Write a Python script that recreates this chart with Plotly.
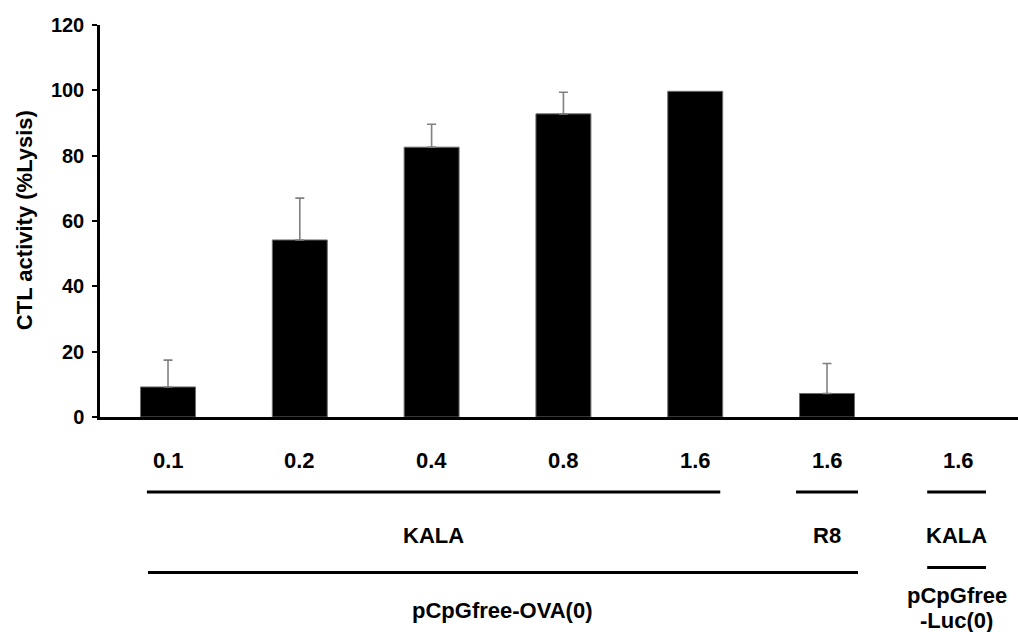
import plotly.graph_objects as go

# ---- data ----
doses = ["0.1", "0.2", "0.4", "0.8", "1.6", "1.6", "1.6"]
lysis = [9.2, 54.2, 82.6, 92.8, 99.7, 7.2, 0]
lysis_err = [8.2, 12.8, 7.0, 6.6, None, 9.2, None]
carrier_labels = ["KALA", "R8", "KALA"]
carrier_groups = [[0, 4], [5, 5], [6, 6]]
plasmid_labels = [["pCpGfree-OVA(0)"], ["pCpGfree", "-Luc(0)"]]
plasmid_groups = [[0, 5], [6, 6]]
y_ticks = [0, 20, 40, 60, 80, 100, 120]

FONT = "Arial, Liberation Sans, sans-serif"
W, H = 1018, 632
ML, MR, MT, MB = 100, 0, 25, 215.3
PH = H - MT - MB
xs = list(range(len(doses)))


def py(ypx):
    return (H - MB - ypx) / PH


fig = go.Figure()
bar_idx = [i for i, v in enumerate(lysis) if v > 0]
fig.add_trace(go.Bar(
    x=[xs[i] for i in bar_idx], y=[lysis[i] for i in bar_idx], width=0.417,
    marker=dict(color="black", line=dict(color="#6e6e6e", width=1)),
    showlegend=False,
))
err_idx = [i for i, e in enumerate(lysis_err) if e is not None]
fig.add_trace(go.Scatter(
    x=[xs[i] for i in err_idx], y=[lysis[i] for i in err_idx], mode="markers",
    marker=dict(size=1, opacity=0),
    error_y=dict(type="data", symmetric=False, array=[lysis_err[i] for i in err_idx],
                 arrayminus=[0] * len(err_idx), visible=True,
                 color="#808080", thickness=1.6, width=4.5),
    showlegend=False, hoverinfo="skip",
))

annotations = []
shapes = []
bold = lambda s: dict(family=FONT, size=s, color="black", weight="bold")

# dose row
for x, t in zip(xs, doses):
    annotations.append(dict(x=x, y=py(460), xref="x", yref="paper", text=t,
                            showarrow=False, xanchor="center", yanchor="middle",
                            font=bold(22)))

# carrier lines and labels
carrier_pad = [(-0.16, 0.19), (-0.235, 0.235), (-0.24, 0.206)]
for (a, b), (pl, pr), lab in zip(carrier_groups, carrier_pad, carrier_labels):
    x0, x1 = a + pl, b + pr
    shapes.append(dict(type="line", xref="x", yref="paper", x0=x0, x1=x1,
                       y0=py(491.7), y1=py(491.7), line=dict(color="black", width=3)))
    annotations.append(dict(x=(x0 + x1) / 2, y=py(535), xref="x", yref="paper", text=lab,
                            showarrow=False, xanchor="center", yanchor="middle",
                            font=bold(22)))

# plasmid lines and labels
plasmid_pad = [(-0.152, 0.235), (-0.24, 0.206)]
plasmid_line_y = [572, 567]
plasmid_text_y = [[610], [595, 620.5]]
for (a, b), (pl, pr), labs, ly, tys in zip(plasmid_groups, plasmid_pad, plasmid_labels,
                                           plasmid_line_y, plasmid_text_y):
    x0, x1 = a + pl, b + pr
    shapes.append(dict(type="line", xref="x", yref="paper", x0=x0, x1=x1,
                       y0=py(ly), y1=py(ly), line=dict(color="black", width=3)))
    for lab, ty in zip(labs, tys):
        annotations.append(dict(x=(x0 + x1) / 2, y=py(ty), xref="x", yref="paper", text=lab,
                                showarrow=False, xanchor="center", yanchor="middle",
                                font=bold(22)))

# y-axis title
annotations.append(dict(x=(24 - ML) / (W - ML - MR), y=py(220), xref="paper", yref="paper",
                        text="CTL activity (%Lysis)", textangle=-90, showarrow=False,
                        xanchor="center", yanchor="middle", font=bold(22)))

fig.update_layout(
    width=W, height=H,
    margin=dict(l=ML, r=MR, t=MT, b=MB, pad=0),
    plot_bgcolor="white", paper_bgcolor="white",
    annotations=annotations, shapes=shapes,
    bargap=0.5, showlegend=False,
)
fig.update_xaxes(range=[-0.516, 6.449], showline=True, linecolor="black", linewidth=2.5,
                 showticklabels=False, ticks="", showgrid=False, zeroline=False)
fig.update_yaxes(range=[0, 120], tickvals=y_ticks, showline=True, linecolor="black",
                 linewidth=2.5, ticks="outside", ticklen=5, tickwidth=2, tickcolor="black",
                 showgrid=False, zeroline=False, ticklabelstandoff=4,
                 tickfont=bold(20))

fig.write_html("out.html")
